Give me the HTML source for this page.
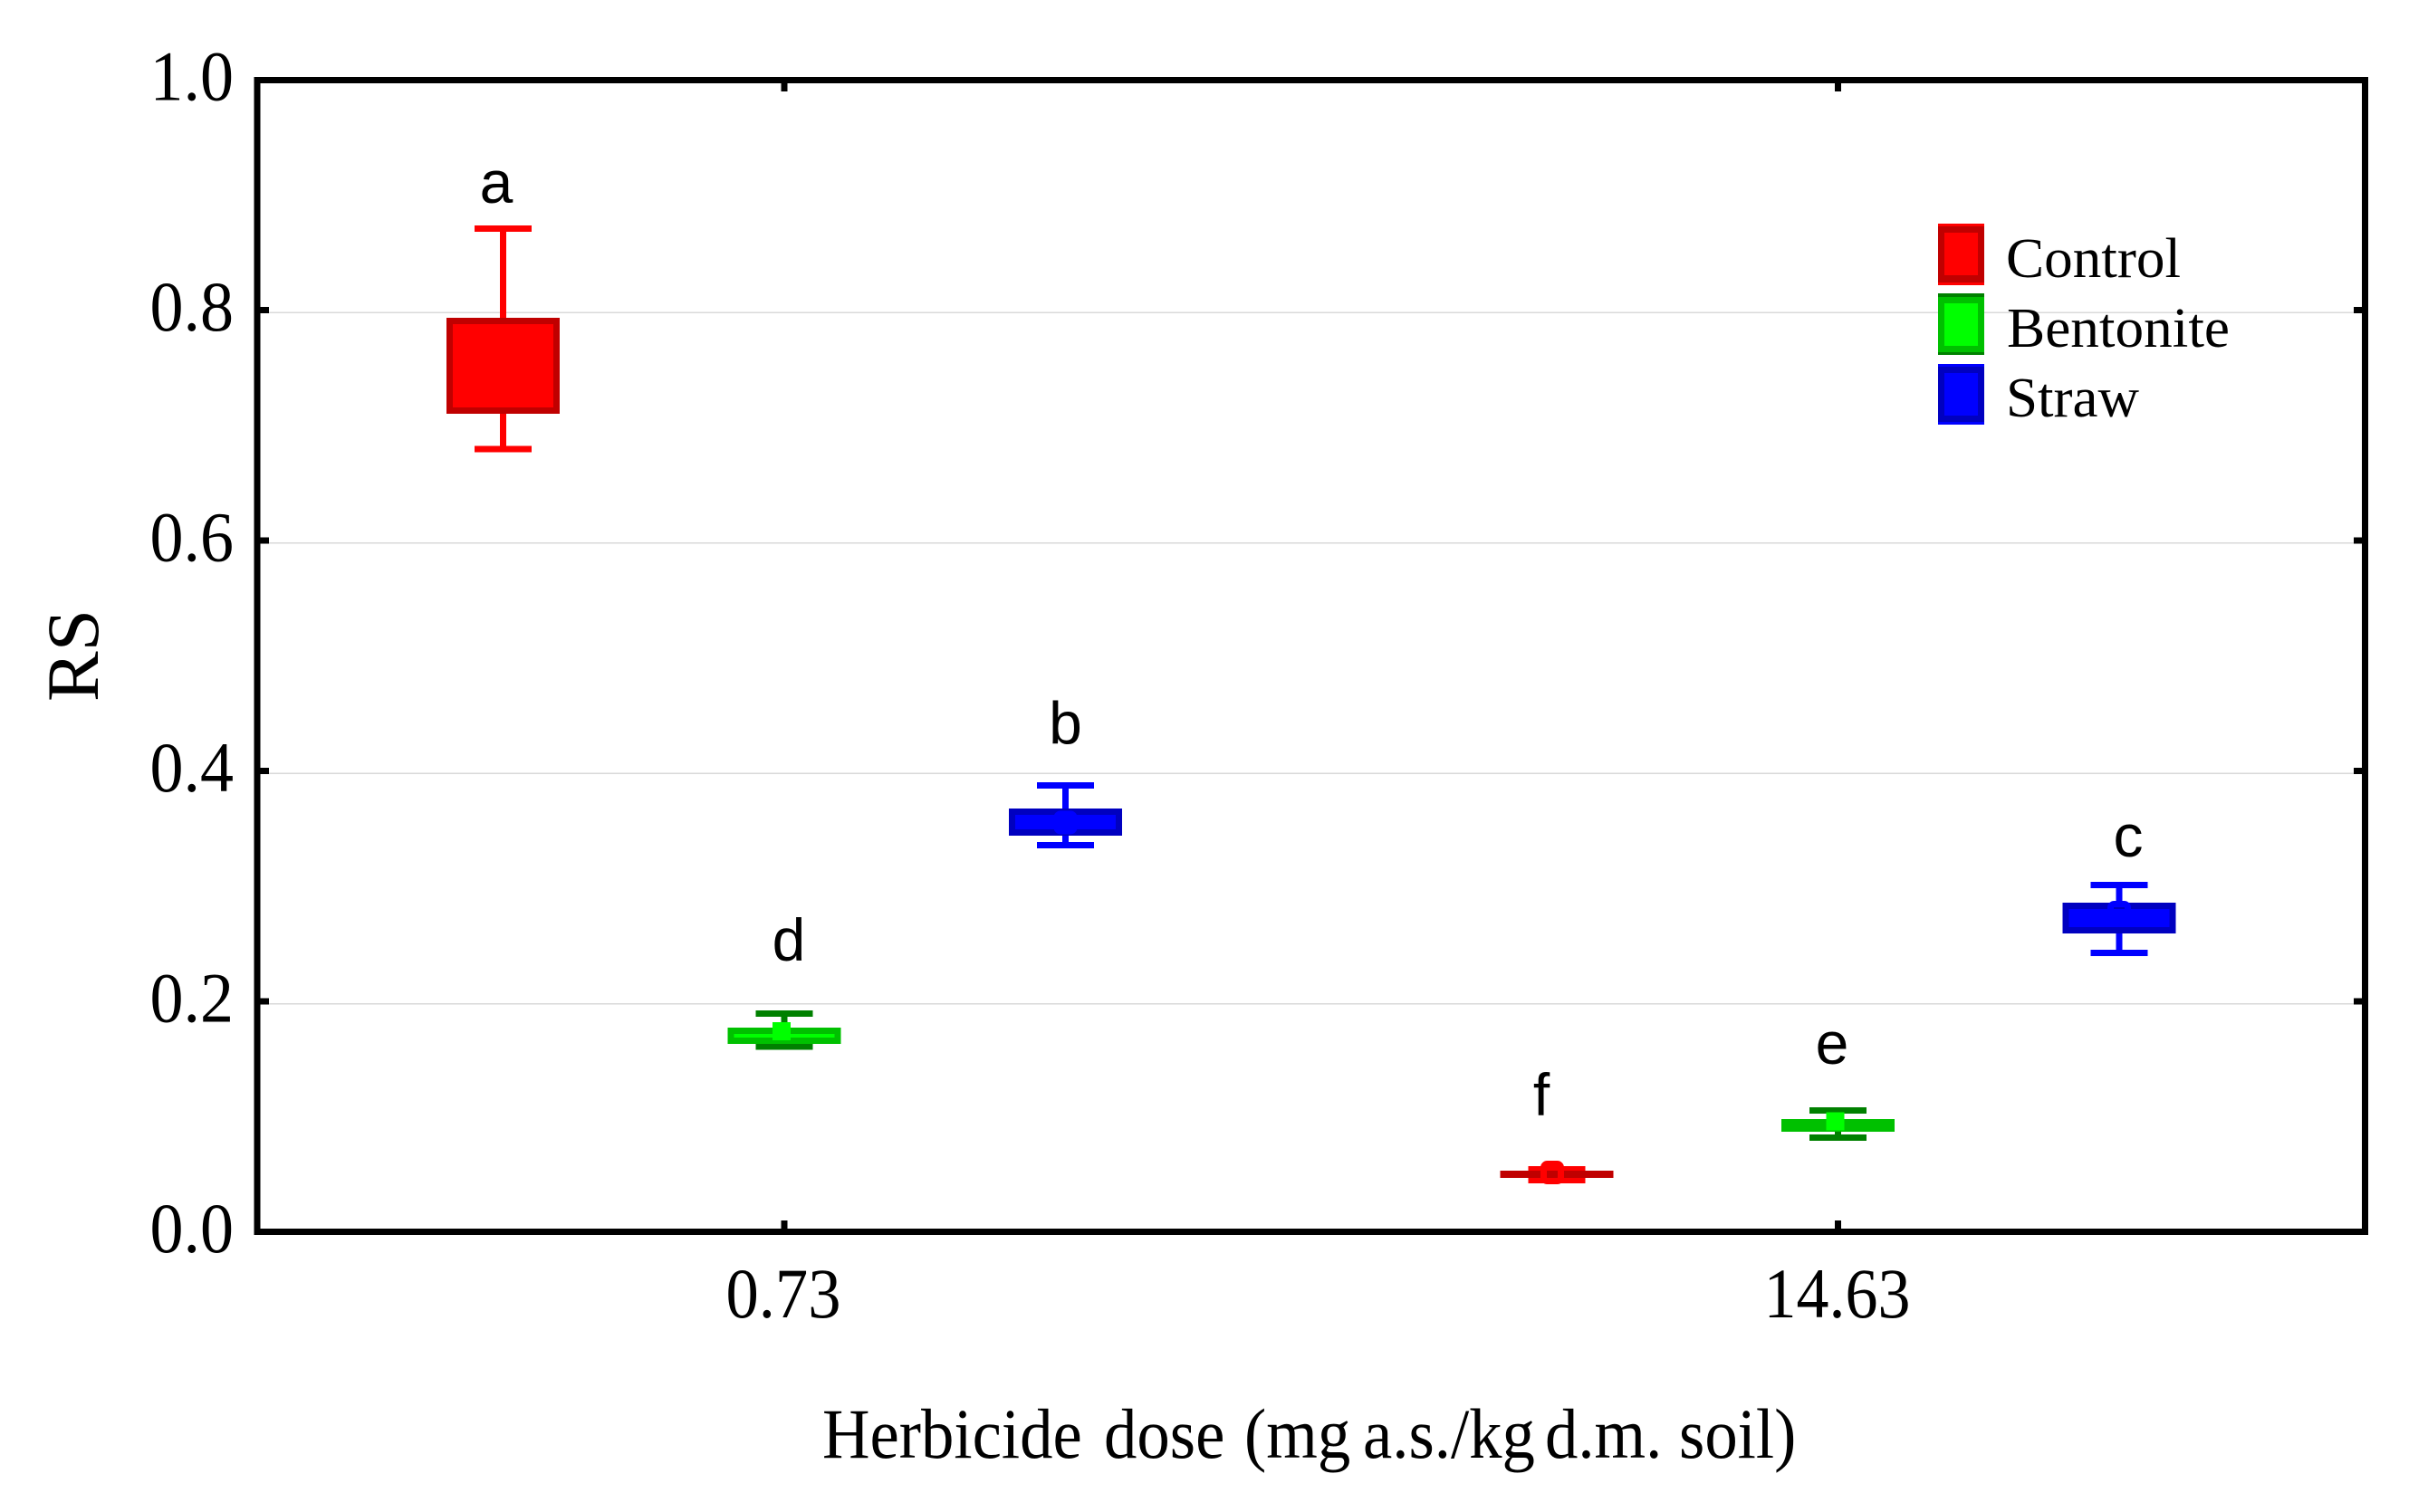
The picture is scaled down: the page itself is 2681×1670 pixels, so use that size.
<!DOCTYPE html>
<html lang="en">
<head>
<meta charset="utf-8">
<title>RS by herbicide dose</title>
<style>
html,body{margin:0;padding:0;background:#fff;}
body{width:2681px;height:1670px;overflow:hidden;}
svg{display:block;}
.serif{font-family:"Liberation Serif",serif;fill:#000;}
.sans{font-family:"Liberation Sans",sans-serif;fill:#000;}
</style>
</head>
<body>
<svg id="chart" xmlns="http://www.w3.org/2000/svg" width="2681" height="1670" viewBox="0 0 2681 1670">
  <rect x="0" y="0" width="2681" height="1670" fill="#fff"/>
  <g id="grid"></g>
  <g id="marks"></g>
  <g id="letters"></g>
  <g id="axes"></g>

  <text class="serif" transform="translate(108,775) rotate(-90)" font-size="82" textLength="102" lengthAdjust="spacingAndGlyphs">RS</text>
  <text class="serif" transform="scale(0.9327,1)" y="1610" font-size="78"><tspan x="973.5">Herbicide </tspan><tspan x="1307">dose </tspan><tspan x="1473.2">(mg </tspan><tspan x="1613.6">a.s./kg </tspan><tspan x="1829.1">d.m. </tspan><tspan x="1987.8">soil)</tspan></text>

  <g shape-rendering="crispEdges">
    <g>
      <rect x="2140" y="247" width="51" height="68" fill="#ff0000"/>
      <rect x="2140" y="250" width="51" height="62" fill="#c00000"/>
      <rect x="2147" y="257" width="37" height="47" fill="#ff0000"/>
      <text class="serif" x="2215" y="306" font-size="62" textLength="193" lengthAdjust="spacingAndGlyphs">Control</text>
    </g>
    <g>
      <rect x="2140" y="324" width="51" height="68" fill="#008000"/>
      <rect x="2140" y="328" width="51" height="61" fill="#00c000"/>
      <rect x="2147" y="335" width="37" height="47" fill="#00ff00"/>
      <text class="serif" x="2216" y="383" font-size="62" textLength="246" lengthAdjust="spacingAndGlyphs">Bentonite</text>
    </g>
    <g>
      <rect x="2140" y="402" width="51" height="67" fill="#0000ff"/>
      <rect x="2140" y="405" width="51" height="61" fill="#0000c0"/>
      <rect x="2147" y="412" width="37" height="47" fill="#0000ff"/>
      <text class="serif" x="2215" y="460" font-size="62" textLength="147" lengthAdjust="spacingAndGlyphs">Straw</text>
    </g>
  </g>
</svg>

<script>
// ---- chart data ----
const doseCategories = ['0.73', '14.63'];
const seriesNames = ['Control', 'Bentonite', 'Straw'];
const yTickLabels = ['0.0', '0.2', '0.4', '0.6', '0.8', '1.0'];
const yTickValues = [0, 0.2, 0.4, 0.6, 0.8, 1.0];

// each series: [dose 0.73, dose 14.63]
const controlMean = [0.754, 0.0538];
const controlBoxLow = [0.7151, 0.0520];
const controlBoxHigh = [0.7929, 0.0526];
const controlWhiskerLow = [0.6817, 0.0472];
const controlWhiskerHigh = [0.8731, 0.0566];

const bentoniteMean = [0.1764, 0.0982];
const bentoniteBoxLow = [0.1682, 0.0919];
const bentoniteBoxHigh = [0.1768, 0.0974];
const bentoniteWhiskerLow = [0.1631, 0.0841];
const bentoniteWhiskerHigh = [0.1917, 0.1077];

const strawMean = [0.3576, 0.2794];
const strawBoxLow = [0.3489, 0.2640];
const strawBoxHigh = [0.3670, 0.2853];
const strawWhiskerLow = [0.3379, 0.2444];
const strawWhiskerHigh = [0.3898, 0.3033];

// significance letters per series, and the value level of each letter's baseline
const controlLetters = ['a', 'f'];
const bentoniteLetters = ['d', 'e'];
const strawLetters = ['b', 'c'];
const controlLetterLevel = [0.8955, 0.1033];
const bentoniteLetterLevel = [0.2377, 0.1481];
const strawLetterLevel = [0.4259, 0.3281];

// ---- axis functions ----
const svgNS = 'http://www.w3.org/2000/svg';
function yScale(v) { return 1363.5 - 1272.5 * v; }
function axisY(v) { return yScale(v) - 3; }
function xCategory(c) { return 866 + 1163.5 * c; }
function xSeries(c, s) { return xCategory(c) + (s - 1) * 310.5; }

function make(parent, tag, attrs, name) {
  const node = document.createElementNS(svgNS, tag);
  for (const k in attrs) node.setAttribute(k, attrs[k]);
  
  
  parent.appendChild(node);
  return node;
}

const seriesList = [
  { key: 'control', mean: controlMean, lo: controlBoxLow, hi: controlBoxHigh, wl: controlWhiskerLow, wh: controlWhiskerHigh,
    whisker: '#ff0000', border: '#c00000', fill: '#ff0000', ring: true, mdx: -5,
    letters: controlLetters, level: controlLetterLevel, ldx: [-7.5, -17] },
  { key: 'bentonite', mean: bentoniteMean, lo: bentoniteBoxLow, hi: bentoniteBoxHigh, wl: bentoniteWhiskerLow, wh: bentoniteWhiskerHigh,
    whisker: '#008000', border: '#00c000', fill: '#00ff00', ring: false, mdx: -3,
    letters: bentoniteLetters, level: bentoniteLetterLevel, ldx: [5, -6.5] },
  { key: 'straw', mean: strawMean, lo: strawBoxLow, hi: strawBoxHigh, wl: strawWhiskerLow, wh: strawWhiskerHigh,
    whisker: '#0000ff', border: '#0000c0', fill: '#0000ff', ring: true, mdx: 0,
    letters: strawLetters, level: strawLetterLevel, ldx: [0, 10] }
];

// ---- gridlines ----
const gridG = document.getElementById('grid');
yTickValues.forEach(function (v, i) {
  if (v === 0 || v === 1) return;
  make(gridG, 'line', { x1: 287, x2: 2608, y1: yScale(v) - 0.5, y2: yScale(v) - 0.5, stroke: '#d9d9d9', 'stroke-width': 1.5, 'shape-rendering': 'crispEdges' }, 'gridline-' + yTickLabels[i]);
});

// ---- series marks ----
const marksG = document.getElementById('marks');
const BOX_HALF = 59, CAP_HALF = 31.5, STROKE = 7;
seriesList.forEach(function (s, si) {
  doseCategories.forEach(function (cat, c) {
    const cx = xSeries(c, si);
    const g = make(marksG, 'g', { 'shape-rendering': 'crispEdges' }, s.key + '-dose-' + cat);
    make(g, 'line', { x1: cx, x2: cx, y1: yScale(s.wh[c]), y2: yScale(s.wl[c]), stroke: s.whisker, 'stroke-width': STROKE }, s.key + '-whisker-' + cat);
    make(g, 'line', { x1: cx - CAP_HALF, x2: cx + CAP_HALF, y1: yScale(s.wh[c]), y2: yScale(s.wh[c]), stroke: s.whisker, 'stroke-width': STROKE }, s.key + '-cap-high-' + cat);
    make(g, 'line', { x1: cx - CAP_HALF, x2: cx + CAP_HALF, y1: yScale(s.wl[c]), y2: yScale(s.wl[c]), stroke: s.whisker, 'stroke-width': STROKE }, s.key + '-cap-low-' + cat);
    make(g, 'rect', { x: cx - BOX_HALF, y: yScale(s.hi[c]), width: 2 * BOX_HALF, height: Math.max(0, yScale(s.lo[c]) - yScale(s.hi[c])), fill: s.fill, stroke: s.border, 'stroke-width': STROKE }, s.key + '-box-' + cat);
    const my = yScale(s.mean[c]);
    const mx = cx + s.mdx;
    if (s.ring) {
      make(g, 'rect', { x: mx - 9.5, y: my - 9.5, width: 19, height: 19, rx: 4, fill: 'none', stroke: s.fill, 'stroke-width': STROKE, 'shape-rendering': 'auto' }, s.key + '-mean-marker-' + cat);
    } else {
      make(g, 'rect', { x: mx - 10, y: my - 10, width: 20, height: 20, fill: s.fill }, s.key + '-mean-marker-' + cat);
    }
  });
});

// ---- significance letters ----
const lettersG = document.getElementById('letters');
seriesList.forEach(function (s, si) {
  doseCategories.forEach(function (cat, c) {
    const t = make(lettersG, 'text', { class: 'sans', x: xSeries(c, si) + s.ldx[c], y: yScale(s.level[c]), 'font-size': 66, 'text-anchor': 'middle' }, 'letter-' + s.letters[c]);
    t.textContent = s.letters[c];
  });
});

// ---- axes ----
const axesG = document.getElementById('axes');
make(axesG, 'rect', { x: 284, y: 88.5, width: 2327.5, height: 1272, fill: 'none', stroke: '#000', 'stroke-width': 7, 'shape-rendering': 'crispEdges' }, 'plot-frame');
yTickValues.forEach(function (v, i) {
  const y = axisY(v);
  if (v !== 0 && v !== 1) {
    make(axesG, 'line', { x1: 287, x2: 297, y1: y, y2: y, stroke: '#000', 'stroke-width': 7, 'shape-rendering': 'crispEdges' }, 'y-tick-left-' + yTickLabels[i]);
    make(axesG, 'line', { x1: 2599, x2: 2608, y1: y, y2: y, stroke: '#000', 'stroke-width': 7, 'shape-rendering': 'crispEdges' }, 'y-tick-right-' + yTickLabels[i]);
  }
  const lab = make(axesG, 'text', { class: 'serif', x: 258, y: y + 22.5, 'font-size': 78, 'text-anchor': 'end', textLength: 92.5, lengthAdjust: 'spacingAndGlyphs' }, 'y-tick-label-' + yTickLabels[i]);
  lab.textContent = yTickLabels[i];
});
doseCategories.forEach(function (cat, c) {
  const x = xCategory(c);
  make(axesG, 'line', { x1: x, x2: x, y1: 1348, y2: 1358, stroke: '#000', 'stroke-width': 7, 'shape-rendering': 'crispEdges' }, 'x-tick-bottom-' + cat);
  make(axesG, 'line', { x1: x, x2: x, y1: 91, y2: 101, stroke: '#000', 'stroke-width': 7, 'shape-rendering': 'crispEdges' }, 'x-tick-top-' + cat);
  const lab = make(axesG, 'text', { class: 'serif', x: x - 1, y: 1455, 'font-size': 78, 'text-anchor': 'middle', textLength: cat.length > 4 ? 162 : 127, lengthAdjust: 'spacingAndGlyphs' }, 'x-tick-label-' + cat);
  lab.textContent = cat;
});
</script>
</body>
</html>
